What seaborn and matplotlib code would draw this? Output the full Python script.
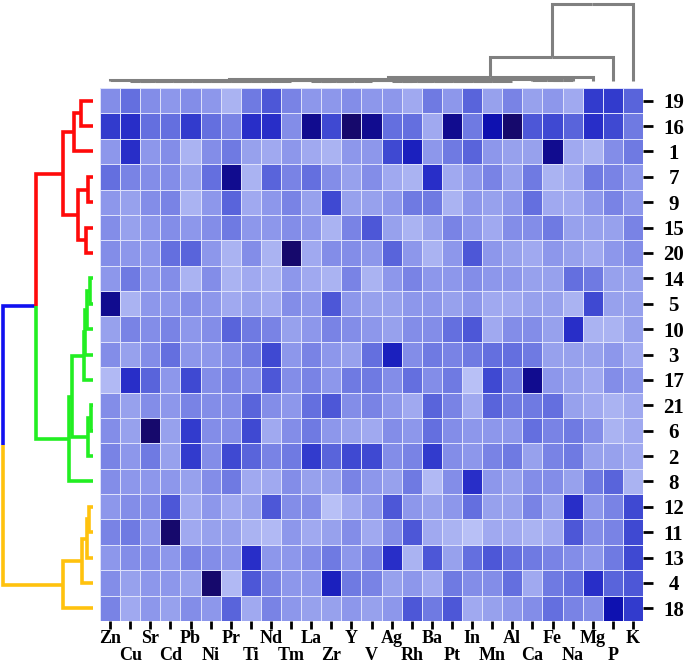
import numpy as np
import pandas as pd
import matplotlib
matplotlib.use("Agg")
import matplotlib.pyplot as plt
import seaborn as sns
from matplotlib.colors import LinearSegmentedColormap

# ---------------- data ----------------
col_labels = ["Zn", "Cu", "Sr", "Cd", "Pb", "Ni", "Pr", "Ti", "Nd", "Tm", "La", "Zr", "Y", "V",
              "Ag", "Rh", "Ba", "Pt", "In", "Mn", "Al", "Ca", "Fe", "Na", "Mg", "P", "K"]
row_labels = ["19", "16", "1", "7", "9", "15", "20", "14", "5", "10", "3",
              "17", "21", "6", "2", "8", "12", "11", "13", "4", "18"]

r19 = [4, 5.5, 4, 3.5, 4, 3.5, 2, 5, 6.5, 4.5, 3.5, 3.5, 4, 3.5, 3.5, 2.5, 5, 3.5, 6, 3, 4.5, 3, 3.5, 2.5, 7.5, 7.5, 6]
r16 = [7.5, 8, 5.5, 5.5, 7.5, 5.5, 4.5, 8, 8, 4, 9.5, 7, 10, 9.5, 5.5, 5.5, 2.5, 9.5, 5, 9, 10, 6.5, 7, 6, 8, 7, 5]
r1 = [3.5, 8, 3.5, 4, 2, 4, 5, 3, 2.5, 3.5, 2.5, 2, 3.5, 3.5, 7, 8.5, 3.5, 5, 6, 3.5, 3, 3, 9.5, 2.5, 2, 4, 5]
r7 = [5.5, 4.5, 4, 4, 3, 5.5, 9.5, 2, 6, 4.5, 5.5, 4, 3, 4, 2.5, 2, 8, 2.5, 3.5, 4.5, 3, 5, 2, 2.5, 5, 4.5, 3.5]
r9 = [3.5, 3, 4, 4.5, 2, 3.5, 6, 2.5, 3.5, 4.5, 3, 7, 3, 3, 3.5, 5, 5, 2, 3.5, 3, 3.5, 5.5, 2.5, 2.5, 3.5, 4.5, 3.5]
r15 = [4, 3, 3.5, 4, 3.5, 4, 5, 3.5, 3.5, 4, 3.5, 2, 4.5, 6.5, 3, 2, 3, 4.5, 3.5, 2.5, 4, 4, 5, 3, 3, 3, 4.5]
r20 = [4, 3.5, 3.5, 5.5, 6, 3.5, 2, 4, 2, 10, 2.5, 4, 4, 3.5, 6, 3.5, 2, 3.5, 6.5, 3.5, 3, 2.5, 3.5, 3, 2.5, 3.5, 4]
r14 = [3.5, 5, 3.5, 4, 2, 4, 2, 2.5, 2, 3.5, 2.5, 2, 4.5, 2, 3.5, 4.5, 3.5, 3.5, 4, 3.5, 3.5, 3, 3, 5.5, 5, 3, 3]
r5 = [9.5, 2, 3.5, 3.5, 4, 3.5, 2.5, 3, 2.5, 4, 3.5, 6.5, 3.5, 3, 3, 3.5, 3.5, 3, 3.5, 2.5, 2.5, 3, 3, 2, 7, 3, 3]
r10 = [3, 4.5, 4, 4.5, 3.5, 4, 6, 5, 4.5, 3, 3.5, 4.5, 4, 3.5, 3, 4, 4, 5.5, 6.5, 2.5, 4, 4, 3, 8, 2, 2, 3]
r3 = [4, 3, 4, 5.5, 3.5, 3.5, 4, 5, 7, 3.5, 4.5, 3.5, 3, 5.5, 8.5, 4, 5, 4.5, 5, 5.5, 5.5, 5, 3, 3, 3, 3.5, 2.5]
r17 = [1.5, 8, 6, 3.5, 7, 4, 4.5, 4, 6.5, 4, 4.5, 3.5, 5, 5, 4, 5.5, 4, 5, 1, 7, 5, 9.5, 3.5, 3, 2.5, 4, 3.5]
r21 = [4, 3, 4, 3.5, 4.5, 4, 4, 6, 4, 3.5, 5.5, 6.5, 4, 4.5, 3.5, 2.5, 6, 4.5, 2.5, 6, 5, 5, 5.5, 3, 2.5, 2, 2.5]
r6 = [4, 3, 10, 3, 7.5, 4, 4, 7, 2.5, 4, 5, 3.5, 3, 2.5, 4, 3.5, 5.5, 4, 3.5, 3.5, 3.5, 5.5, 4.5, 5, 4, 2, 2.5]
r2 = [4.5, 3.5, 5, 3, 7.5, 4, 7, 6, 4.5, 5, 7.5, 6, 7, 7, 4, 4.5, 7.5, 4, 3.5, 4.5, 5, 3, 4.5, 5, 3, 3, 2.5]
r8 = [4, 3.5, 3.5, 3.5, 3, 4, 5, 2.5, 2.5, 4, 3, 3, 4.5, 3.5, 3, 5, 1.5, 4, 8, 3.5, 3, 4, 4, 3, 5, 6, 2]
r12 = [3.5, 4, 4, 6.5, 2.5, 3.5, 2.5, 3, 6.5, 4, 4, 1, 2.5, 3.5, 6.5, 3.5, 3, 3.5, 5.5, 3, 3, 4.5, 3, 8, 3.5, 4.5, 7]
r11 = [4.5, 5, 3.5, 10, 2.5, 3, 3, 2, 1.5, 3.5, 2.5, 3, 4, 2.5, 4, 6.5, 2.5, 2, 1, 2.5, 2.5, 2, 2.5, 6.5, 4, 4.5, 7]
r13 = [3.5, 4, 4, 3.5, 4.5, 4, 3.5, 8, 3.5, 3.5, 4, 5, 3.5, 4.5, 8, 2, 6.5, 3, 5.5, 6.5, 5.5, 5, 4.5, 4, 3.5, 5, 7]
r4 = [4, 3, 3.5, 3.5, 3, 10, 1.5, 6.5, 4.5, 3.5, 3.5, 8.5, 5, 4.5, 3, 3.5, 2.5, 5, 4, 4, 5.5, 2.5, 5, 5.5, 8, 6, 6.5]
r18 = [4.5, 2.5, 3.5, 3, 4, 3.5, 6, 2.5, 4.5, 3.5, 3, 3, 3.5, 3, 3.5, 6.5, 5, 6.5, 2.5, 3, 3.5, 4, 5.5, 4.5, 4, 9, 7.5]

rows_data = [r19, r16, r1, r7, r9, r15, r20, r14, r5, r10, r3,
             r17, r21, r6, r2, r8, r12, r11, r13, r4, r18]

# row dendrogram: (left, right, merge height)
red_tree = ((("19", "16", 12), "1", 19), (("7", "9", 5), ("15", "20", 7), 15), 30)
green_core = ((((("14", "5", 3), "10", 6), "3", 7.5), "17", 8.5),
              ((("21", "6", 2), "2", 5)), 21)
green_tree = (green_core, "8", 24)
yellow_tree = (((("12", "11", 3.7), "13", 5.7), "4", 11.3), "18", 30.3)
row_tree = ((red_tree, green_tree, 57), yellow_tree, 89.7)

# column dendrogram (many near-zero merges, then Mg, P, K)
col_p1 = ((((((((("Cu", "Sr", 0.1), "Cd", 0.15), "Pb", 0.2), "Ni", 0.25), "Pr", 0.3),
              "Ti", 0.35), "Nd", 0.4), "Tm", 0.45))
col_p2a = (((("La", "Zr", 0.1), "Y", 0.15), "V", 0.2))
col_p2b = (((((("Ag", "Rh", 0.1), "Ba", 0.15), "Pt", 0.2), "In", 0.25), "Mn", 0.3), "Al", 0.35)
col_p2 = (col_p2a, col_p2b, 0.6)
col_a = ("Zn", (col_p1, col_p2, 0.9), 1.1)
col_b = ("Ca", ("Fe", "Na", 0.9), 1.3)
col_W = (col_a, col_b, 1.8)
col_tree = ((((col_W, "Mg", 4.0), "P", 23.7), "K", 77.0))

# ---------------- style ----------------
cmap = LinearSegmentedColormap.from_list(
    "blu",
    [(0.0, "#c6ccf9"), (0.2, "#aab3f2"), (0.35, "#8d97eb"), (0.5, "#6f7ae2"),
     (0.62, "#5560da"), (0.72, "#3a44d0"), (0.82, "#2329c6"), (0.91, "#0c0fae"),
     (1.0, "#16096c")])

W_PX, H_PX = 685, 663
fig = plt.figure(figsize=(W_PX / 100, H_PX / 100), dpi=100)
hx0, hx1, hy0, hy1 = 100, 643, 88, 621  # heatmap pixel box
ax_h = fig.add_axes([hx0 / W_PX, 1 - hy1 / H_PX, (hx1 - hx0) / W_PX, (hy1 - hy0) / H_PX])
ax_r = fig.add_axes([0, 1 - hy1 / H_PX, hx0 / W_PX, (hy1 - hy0) / H_PX])
ax_c = fig.add_axes([hx0 / W_PX, 1 - hy0 / H_PX, (hx1 - hx0) / W_PX, hy0 / H_PX])

df = pd.DataFrame(rows_data, index=row_labels, columns=col_labels)
sns.heatmap(df, ax=ax_h, cmap=cmap, vmin=0, vmax=10, cbar=False,
            linewidths=0.6, linecolor="#dde1fb")

ax_h.yaxis.tick_right()
ax_h.set_xlabel("")
ax_h.set_ylabel("")
ax_h.set_yticks(np.arange(len(row_labels)) + 0.5)
ax_h.set_yticklabels(row_labels, rotation=0, ha="center",
                     fontfamily="Liberation Serif", fontweight="bold", fontsize=15)
ax_h.tick_params(axis="y", which="major", direction="out", length=7, width=2,
                 pad=15, right=True, left=False, color="black")

idx = np.arange(len(col_labels))
even = idx[idx % 2 == 0]
odd = idx[idx % 2 == 1]
ax_h.set_xticks(even + 0.5)
ax_h.set_xticklabels([col_labels[i] for i in even], rotation=0,
                     fontfamily="Liberation Serif", fontweight="bold", fontsize=13)
ax_h.set_xticks(odd + 0.5, minor=True)
ax_h.set_xticklabels([col_labels[i] for i in odd], minor=True, rotation=0,
                     fontfamily="Liberation Serif", fontweight="bold", fontsize=13)
ax_h.tick_params(axis="x", which="major", direction="out", length=6, width=2, pad=0.5,
                 color="black")
ax_h.tick_params(axis="x", which="minor", direction="out", length=6, width=2, pad=12.5,
                 color="black")

# ---------------- dendrograms ----------------
row_pos = {lab: i + 0.5 for i, lab in enumerate(row_labels)}
col_pos = {lab: i + 0.5 for i, lab in enumerate(col_labels)}
ABOVE = "#1010f0"
cluster_color = {id(red_tree): "#ff0a0a", id(green_tree): "#22ee22", id(yellow_tree): "#ffc20e"}


def center(node, pos):
    if isinstance(node, str):
        return pos[node]
    return (center(node[0], pos) + center(node[1], pos)) / 2


def height(node):
    return 0.0 if isinstance(node, str) else node[2]


def draw(ax, node, pos, orient, node_col, lw, fixed=None):
    if isinstance(node, str):
        return
    pc = center(node, pos)
    h = node[2]
    for child in node[:2]:
        cc = center(child, pos)
        ch = height(child)
        if fixed is not None:
            col = fixed
        elif not isinstance(child, str) and id(child) in cluster_color:
            col = cluster_color[id(child)]
        else:
            col = node_col
        if orient == "left":
            ax.plot([h, h, ch], [pc, cc, cc], color=col, lw=lw, solid_joinstyle="miter",
                    solid_capstyle="butt")
        else:
            ax.plot([pc, cc, cc], [h, h, ch], color=col, lw=lw, solid_joinstyle="miter",
                    solid_capstyle="butt")
        draw(ax, child, pos, orient, col, lw, fixed)


draw(ax_r, row_tree, row_pos, "left", ABOVE, 2.6)
ax_r.set_ylim(len(row_labels), 0)
ax_r.set_xlim(93, -7)
ax_r.axis("off")

draw(ax_c, col_tree, col_pos, "top", None, 2.2, fixed="#808080")
ax_c.set_xlim(0, len(col_labels))
ax_c.set_ylim(-7, 81)
ax_c.axis("off")

fig.savefig("out.png", dpi=100)
